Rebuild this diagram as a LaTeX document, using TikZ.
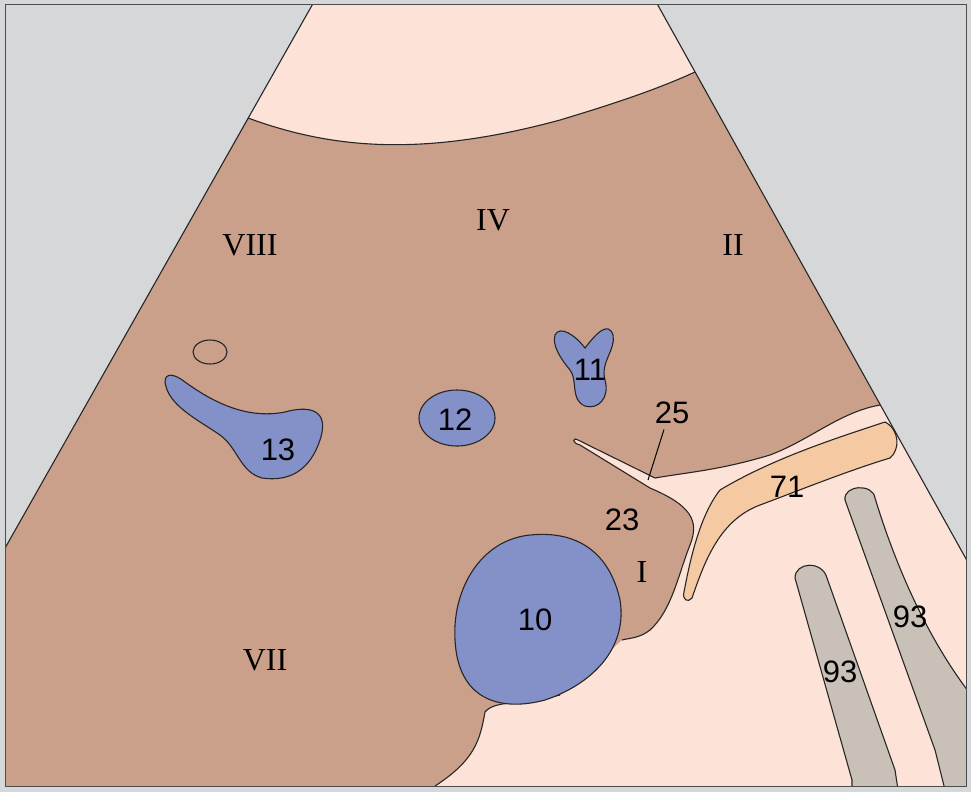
\documentclass[tikz,border=0pt]{standalone}
\usepackage{fontspec}
\setmainfont{Liberation Serif}
\newfontfamily\numfont{Liberation Sans}
\definecolor{bg}{HTML}{D6D7D9}
\definecolor{pk}{HTML}{FDE3D7}
\definecolor{br}{HTML}{CBA08A}
\definecolor{bl}{HTML}{8490C8}
\definecolor{og}{HTML}{F5C9A2}
\definecolor{gy}{HTML}{C9C0B8}
\tikzset{ol/.style={draw=black!85,line width=1.1pt},
 rom/.style={font=\fontsize{32}{32}\selectfont},
 num/.style={font=\numfont\fontsize{31}{31}\selectfont}}
\begin{document}
\begin{tikzpicture}[x=1pt,y=-1pt]
\useasboundingbox (0,0) rectangle (971,792);
\fill[bg] (0,0) rectangle (971,792);
\begin{scope}
\clip (5,5) rectangle (966,786);
\fill[pk] (315,0) -- (655,0) -- (975,575) -- (975,800) -- (0,800) -- (0,557) -- cycle;
% liver
\path[fill=br] (248,118) .. controls (330,148) and (420,158) .. (560,120) .. controls (620,102) and (660,88) .. (695,72)
 -- (880,405) .. controls (840,412) and (810,440) .. (770,455) .. controls (720,470) and (690,472) .. (655,478)
 -- (578,440) .. controls (572,437) and (572,443) .. (580,445) -- (650,488) .. controls (690,505) and (700,520) .. (690,545)
 .. controls (678,575) and (672,610) .. (650,630) .. controls (640,638) and (630,638) .. (622,640)
 -- (560,695) .. controls (520,705) and (495,700) .. (485,712) .. controls (480,740) and (475,760) .. (435,786)
 -- (0,786) -- (0,557) -- cycle;
\draw[ol] (248,118) .. controls (330,148) and (420,158) .. (560,120) .. controls (620,102) and (660,88) .. (695,72);
\draw[ol] (880,405) .. controls (840,412) and (810,440) .. (770,455) .. controls (720,470) and (690,472) .. (655,478)
 -- (578,440) .. controls (572,437) and (572,443) .. (580,445) -- (650,488) .. controls (690,505) and (700,520) .. (690,545)
 .. controls (678,575) and (672,610) .. (650,630) .. controls (640,638) and (630,638) .. (622,640);
\draw[ol] (560,695) .. controls (520,705) and (495,700) .. (485,712) .. controls (480,740) and (475,760) .. (435,786);
\draw[ol] (315,0) -- (0,557);
\draw[ol] (655,0) -- (975,575);
% 71
\path[fill=og,ol] (720,490) .. controls (770,460) and (830,440) .. (885,422) .. controls (900,430) and (900,450) .. (890,458)
 .. controls (850,470) and (800,490) .. (760,505) .. controls (720,520) and (705,560) .. (692,598) .. controls (688,603) and (682,600) .. (684,592)
 .. controls (690,560) and (700,515) .. (720,490) -- cycle;
% 93
\path[fill=gy,ol] (795,578) .. controls (795,562) and (822,560) .. (827,578) -- (895,770) -- (898,790) -- (852,790) -- (852,780) -- cycle;
\path[fill=gy,ol] (845,500) .. controls (843,485) and (873,483) .. (875,498) .. controls (900,580) and (935,650) .. (975,700) -- (975,790) -- (945,790) -- (935,750) -- cycle;
% 10
\path[fill=bl,ol] (455,640) .. controls (452,590) and (480,540) .. (530,535) .. controls (580,530) and (610,555) .. (620,600)
 .. controls (628,650) and (590,685) .. (545,700) .. controls (500,712) and (458,700) .. (455,640) -- cycle;
% 13
\path[fill=bl,ol] (165,382) .. controls (165,372) and (175,374) .. (185,382) .. controls (210,400) and (245,420) .. (285,412)
 .. controls (310,405) and (330,410) .. (320,440) .. controls (310,470) and (290,482) .. (262,478) .. controls (240,472) and (238,448) .. (220,435)
 .. controls (195,418) and (168,405) .. (165,382) -- cycle;
% 12
\path[fill=bl,ol] (457,418) ellipse [x radius=38, y radius=28];
% 11
\path[fill=bl,ol] (555,335) .. controls (560,325) and (575,335) .. (585,348) .. controls (595,335) and (608,320) .. (613,335)
 .. controls (616,350) and (600,362) .. (605,380) .. controls (610,398) and (598,410) .. (585,406) .. controls (570,400) and (578,380) .. (570,370)
 .. controls (560,358) and (552,345) .. (555,335) -- cycle;
\draw[ol] (210,352) ellipse [x radius=17, y radius=12];
\end{scope}
\draw[black!70,line width=1pt] (5,5) rectangle (966,786);
\node[rom] (l8) at (250,245) {VIII};
\node[rom] (l4) at (493,220) {IV};
\node[rom] (l2) at (733,245) {II};
\node[rom] (l7) at (265,660) {VII};
\node[rom] (l1) at (642,572) {I};
\node[num] (n23) at (622,520) {23};
\node[num] (n25) at (672,413) {25};
\coordinate (p25) at (648,480);
\draw[line width=1pt] (n25.south) ++(-8,2) -- (p25);
\node[num] (n13) at (278,450) {13};
\node[num] (n12) at (455,420) {12};
\node[num] (n11) at (590,370) {11};
\node[num] (n10) at (535,620) {10};
\node[num] (n71) at (787,487) {71};
\node[num] (n93a) at (910,617) {93};
\node[num] (n93b) at (840,672) {93};
\end{tikzpicture}
\end{document}
